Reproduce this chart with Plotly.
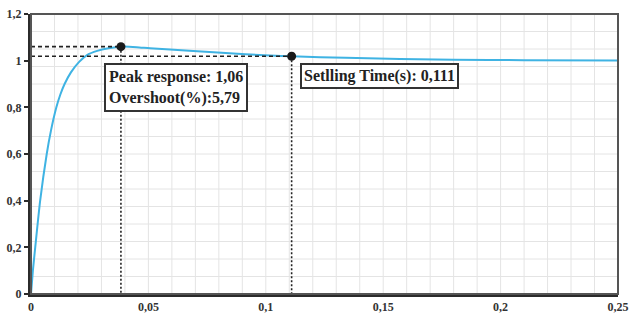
import numpy as np
import plotly.graph_objects as go

# Step response of the closed loop (time in s, output normalised)
time_s = [0, 0.0008, 0.0018, 0.0039, 0.0067, 0.0085, 0.0108, 0.0125, 0.0143,
          0.0170, 0.0205, 0.0240, 0.0282, 0.0330, 0.0383, 0.0450, 0.0507,
          0.0674, 0.0811, 0.1019, 0.1110, 0.1340, 0.1800, 0.2100, 0.2500]
response = [0, 0.10, 0.20, 0.40, 0.60, 0.70, 0.80, 0.855, 0.90,
            0.95, 0.995, 1.025, 1.042, 1.053, 1.060, 1.058, 1.053,
            1.043, 1.034, 1.022, 1.019, 1.012, 1.004, 1.002, 1.001]

# Characteristics shown on the plot
peak_time = 0.0383
peak_response = 1.06
overshoot_pct = 5.79
settling_time = 0.111
settling_response = 1.019

x_ticks = [0, 0.05, 0.1, 0.15, 0.2, 0.25]
y_ticks = [0, 0.2, 0.4, 0.6, 0.8, 1, 1.2]
x_range = [0, 0.25]
y_range = [0, 1.2]

serif = '"Liberation Serif", "DejaVu Serif", "Times New Roman", serif'
ink = "#2b2b2b"

fig = go.Figure()

# response curve
fig.add_trace(go.Scatter(
    x=time_s, y=response, mode="lines",
    line=dict(color="#3fb3e3", width=2, shape="spline", smoothing=0.6),
    hoverinfo="skip", showlegend=False))

# guide lines to the peak and settling points
for t, v in [(peak_time, peak_response), (settling_time, settling_response)]:
    fig.add_trace(go.Scatter(x=[0, t], y=[v, v], mode="lines",
                             line=dict(color="#222", width=1.6, dash="4px,3px"),
                             hoverinfo="skip", showlegend=False))
    fig.add_trace(go.Scatter(x=[t, t], y=[v, 0], mode="lines",
                             line=dict(color="#222", width=1.6, dash="2px,2px"),
                             hoverinfo="skip", showlegend=False))

fig.add_trace(go.Scatter(
    x=[peak_time, settling_time], y=[peak_response, settling_response],
    mode="markers", marker=dict(color="#1a1a1a", size=9),
    hoverinfo="skip", showlegend=False))

# light grid: 0.01 s vertically, 0.075 horizontally
grid = [dict(type="line", xref="x", yref="paper", x0=gx, x1=gx, y0=0, y1=1,
             line=dict(color="#e4e4e4", width=1), layer="below")
        for gx in np.arange(0.01, 0.25, 0.01)]
grid += [dict(type="line", xref="paper", yref="y", x0=0, x1=1, y0=gy, y1=gy,
              line=dict(color="#e4e4e4", width=1), layer="below")
         for gy in np.arange(0.075, 1.2, 0.075)]
frame = [dict(type="rect", xref="paper", yref="paper", x0=0, x1=1, y0=0, y1=1,
              line=dict(color="#555", width=2), layer="above")]

label_font = dict(family=serif, size=16, color="#222", weight="bold")
annotations = [
    dict(x=0.0312, y=0.99, xref="x", yref="y", xanchor="left", yanchor="top",
         text=f"Peak response: {peak_response:.2f}".replace(".", ",")
              + "<br>" + f"Overshoot(%):{overshoot_pct:.2f}".replace(".", ","),
         align="left", showarrow=False, font=label_font,
         bgcolor="white", bordercolor="#333", borderwidth=2, borderpad=3),
    dict(x=settling_time + 0.0037, y=0.99, xref="x", yref="y",
         xanchor="left", yanchor="top",
         text=f"Setlling Time(s): {settling_time:.3f}".replace(".", ","),
         align="left", showarrow=False, font=label_font,
         bgcolor="white", bordercolor="#333", borderwidth=2, borderpad=2),
]

tick_font = dict(family=serif, size=12, color="#333", weight="bold")
fig.update_layout(
    width=636, height=321,
    margin=dict(l=28, r=7, t=11, b=20),
    paper_bgcolor="white", plot_bgcolor="white",
    separators=",.",
    shapes=grid + frame,
    annotations=annotations,
    xaxis=dict(range=[x_range[0], x_range[1] + 1e-9], tickvals=x_ticks,
               showgrid=False, zeroline=False,
               showline=True, linecolor=ink, linewidth=3, ticks="",
               tickfont=tick_font, ticklabeloverflow="allow", fixedrange=True),
    yaxis=dict(range=y_range, tickvals=y_ticks, showgrid=False, zeroline=False,
               showline=True, linecolor=ink, linewidth=3, ticks="outside",
               ticklen=4, tickwidth=1.5, tickcolor=ink,
               tickfont=tick_font, ticklabeloverflow="allow", fixedrange=True),
)

fig.write_html("out.html", config={"displayModeBar": False})
